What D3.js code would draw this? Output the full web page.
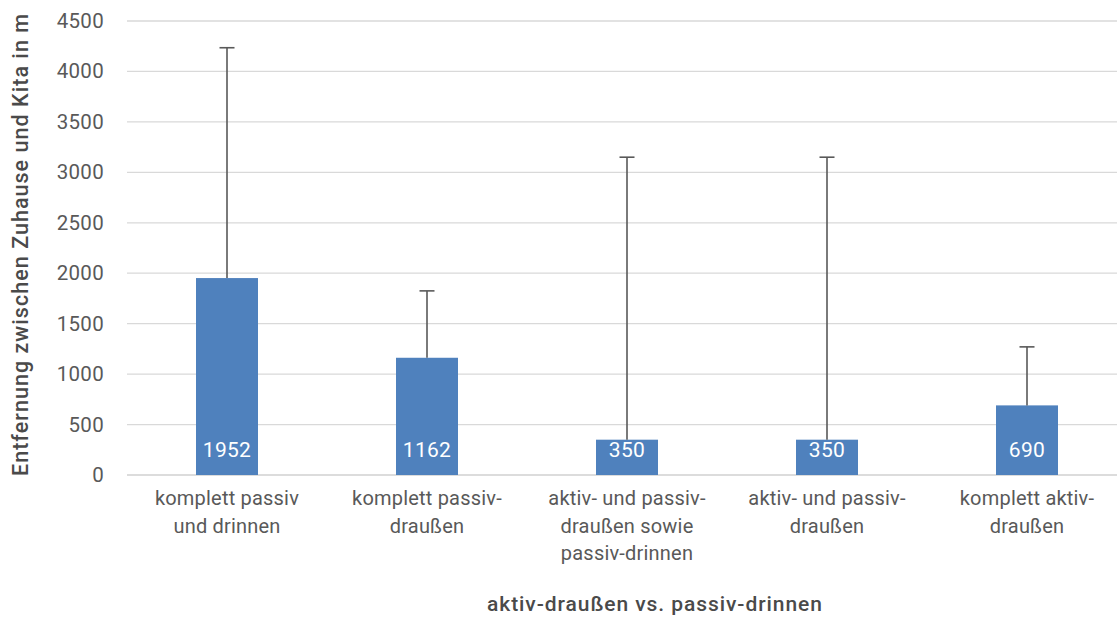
<!DOCTYPE html>
<html><head><meta charset="utf-8">
<script src="https://cdn.jsdelivr.net/npm/d3@7"></script>
<style>body{margin:0;background:#fff;}svg{display:block;font-family:Roboto,"DejaVu Sans",sans-serif;}</style>
</head><body>
<svg id="c" width="1117" height="617"></svg>
<script>
const categories = [
  ["komplett passiv","und drinnen"],
  ["komplett passiv-","draußen"],
  ["aktiv- und passiv-","draußen sowie","passiv-drinnen"],
  ["aktiv- und passiv-","draußen"],
  ["komplett aktiv-","draußen"]
];
const values = [1952, 1162, 350, 350, 690];
const errorPlus = [2283, 663, 2800, 2800, 580];
const yTicks = [0,500,1000,1500,2000,2500,3000,3500,4000,4500];
const yTitle = "Entfernung zwischen Zuhause und Kita in m";
const xTitle = "aktiv-draußen vs. passiv-drinnen";

const svg = d3.select("#c");
const x = d3.scaleBand().domain(d3.range(categories.length)).range([127,1127]).paddingInner(0.69).paddingOuter(0.345);
const y = d3.scaleLinear().domain([0,4500]).range([475,21]);

// gridlines
svg.append("g").selectAll("line").data(yTicks).join("line")
  .attr("x1",127).attr("x2",1117).attr("y1",d=>y(d)).attr("y2",d=>y(d))
  .attr("stroke",d=>d===0?"#d0d0d0":"#d9d9d9").attr("stroke-width",1.3);

// y tick labels
svg.append("g").selectAll("text").data(yTicks).join("text")
  .attr("x",104).attr("y",d=>y(d)+7).attr("text-anchor","end")
  .attr("font-size",20.5).attr("letter-spacing",0.3).attr("fill","#595959").text(d=>d);

// bars
const bw = 62;
const cx = i => x(i)+x.bandwidth()/2;
svg.append("g").selectAll("rect").data(values).join("rect")
  .attr("x",(d,i)=>cx(i)-bw/2).attr("width",bw)
  .attr("y",d=>y(d)).attr("height",d=>y(0)-y(d)).attr("fill","#4F81BD");

// error bars
const eg = svg.append("g").attr("stroke","#595959").attr("stroke-width",1.6);
values.forEach((v,i)=>{
  eg.append("line").attr("x1",cx(i)).attr("x2",cx(i)).attr("y1",y(v)).attr("y2",y(v+errorPlus[i]));
  eg.append("line").attr("x1",cx(i)-7.5).attr("x2",cx(i)+7.5).attr("y1",y(v+errorPlus[i])).attr("y2",y(v+errorPlus[i]));
});

// bar labels
svg.append("g").selectAll("text").data(values).join("text")
  .attr("x",(d,i)=>cx(i)).attr("y",d=>y(0)-18).attr("text-anchor","middle")
  .attr("font-size",21).attr("letter-spacing",0.3).attr("fill","#fff").text(d=>d);

// category labels
const cg = svg.append("g");
categories.forEach((lines,i)=>{
  const t = cg.append("text").attr("x",cx(i)).attr("y",505).attr("text-anchor","middle")
    .attr("font-size",20).attr("letter-spacing",0.2).attr("fill","#595959");
  lines.forEach((l,j)=>t.append("tspan").attr("x",cx(i)).attr("y",505+j*27.5).text(l));
});

// axis titles
svg.append("text").attr("x",487).attr("y",611)
  .attr("font-size",21).attr("font-weight",500).attr("fill","#4a4a4a")
  .attr("textLength",335).attr("lengthAdjust","spacing").text(xTitle);
svg.append("text").attr("transform","translate(28,476) rotate(-90)")
  .attr("font-size",21.5).attr("font-weight",500).attr("fill","#4a4a4a")
  .attr("textLength",462).attr("lengthAdjust","spacing").text(yTitle);
</script>
</body></html>
